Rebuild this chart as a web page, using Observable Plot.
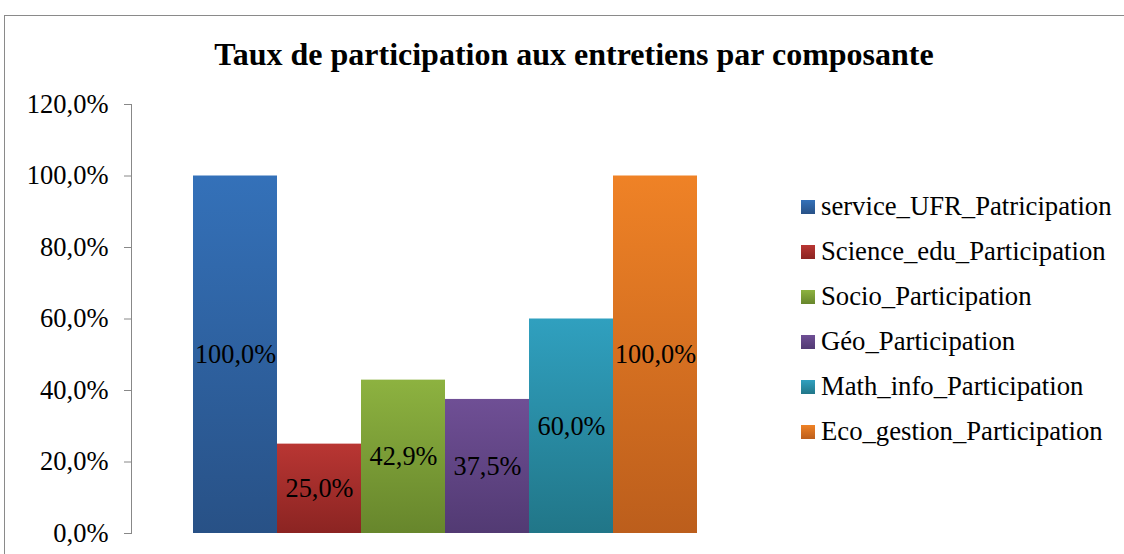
<!DOCTYPE html>
<html>
<head>
<meta charset="utf-8">
<script src="https://cdn.jsdelivr.net/npm/d3@7"></script>
<script src="https://cdn.jsdelivr.net/npm/@observablehq/plot@0.6"></script>
<style>
  html, body { margin: 0; padding: 0; background: #fff; }
  #wrap { position: relative; width: 1124px; height: 554px; overflow: hidden; font-family: "Liberation Serif", "Times New Roman", serif; }
  #frame { position: absolute; left: 4px; top: 15px; width: 1200px; height: 600px; border: 1px solid #8a8a8a; box-sizing: border-box; }
  #title { position: absolute; left: 0; width: 1148px; top: 36px; text-align: center; font-weight: bold; font-size: 32px; line-height: 36px; color: #000; }
  #chart { position: absolute; left: 0; top: 0; }
  #legend { position: absolute; left: 801px; top: 184px; }
  .item { height: 45px; display: flex; align-items: center; font-size: 26.7px; color: #000; white-space: nowrap; }
  .sw { width: 14px; height: 14px; margin-right: 6px; flex: none; }
</style>
</head>
<body>
<div id="wrap">
  <div id="frame"></div>
  <div id="title"></div>
  <div id="chart"></div>
  <div id="legend"></div>
</div>
<script>
const title = "Taux de participation aux entretiens par composante";
const categories = [
  "service_UFR_Patricipation",
  "Science_edu_Participation",
  "Socio_Participation",
  "Géo_Participation",
  "Math_info_Participation",
  "Eco_gestion_Participation"
];
const values = [100.0, 25.0, 42.9, 37.5, 60.0, 100.0];
const yTicks = [0, 20, 40, 60, 80, 100, 120];
const colorsTop = ["#3471b9", "#b93633", "#8db240", "#6f4f95", "#30a0bf", "#ef8226"];
const colorsBottom = ["#285186", "#8b2422", "#67862c", "#523a73", "#217688", "#bc5e1c"];

const fmt = v => v.toFixed(1).replace(".", ",") + "%";

document.getElementById("title").textContent = title;

// gradient defs
const defs = d3.select("body").append("svg")
  .attr("width", 0).attr("height", 0)
  .style("position", "absolute")
  .append("defs");
categories.forEach((c, i) => {
  const g = defs.append("linearGradient").attr("id", "g" + i)
    .attr("x1", 0).attr("y1", 0).attr("x2", 0).attr("y2", 1);
  g.append("stop").attr("offset", "0%").attr("stop-color", colorsTop[i]);
  g.append("stop").attr("offset", "100%").attr("stop-color", colorsBottom[i]);
});

const data = categories.map((c, i) => ({cat: c, v: values[i], fill: `url(#g${i})`}));

const chart = Plot.plot({
  width: 1124,
  height: 554,
  marginTop: 104,
  marginBottom: 21,
  marginLeft: 131,
  marginRight: 0,
  style: { fontFamily: "'Liberation Serif', 'Times New Roman', serif", fontSize: "26px", color: "#000", background: "transparent", overflow: "visible" },
  x: { domain: categories, range: [193, 697], padding: 0, axis: null },
  y: { domain: [0, 120] },
  color: { type: "identity" },
  marks: [
    Plot.barY(data, { x: "cat", y: "v", fill: "fill", inset: 0, style: "filter: drop-shadow(1px 2px 2px rgba(0,0,0,0.35))" }),
    Plot.text(data, { x: "cat", y: d => d.v / 2, text: d => fmt(d.v), fill: "#000", fontSize: 26.3 }),
    Plot.axisY({ ticks: yTicks, tickFormat: fmt, tickSize: 7, tickPadding: 16, stroke: "#888", fill: "#000", fontSize: 26.5, label: null, strokeOpacity: 1 }),
    Plot.frame({ anchor: "left", stroke: "#888" })
  ]
});
document.getElementById("chart").appendChild(chart);

const legend = d3.select("#legend");
categories.forEach((c, i) => {
  const it = legend.append("div").attr("class", "item");
  it.append("div").attr("class", "sw")
    .style("background", `linear-gradient(${colorsTop[i]}, ${colorsBottom[i]})`);
  it.append("span").text(c);
});
</script>
</body>
</html>
